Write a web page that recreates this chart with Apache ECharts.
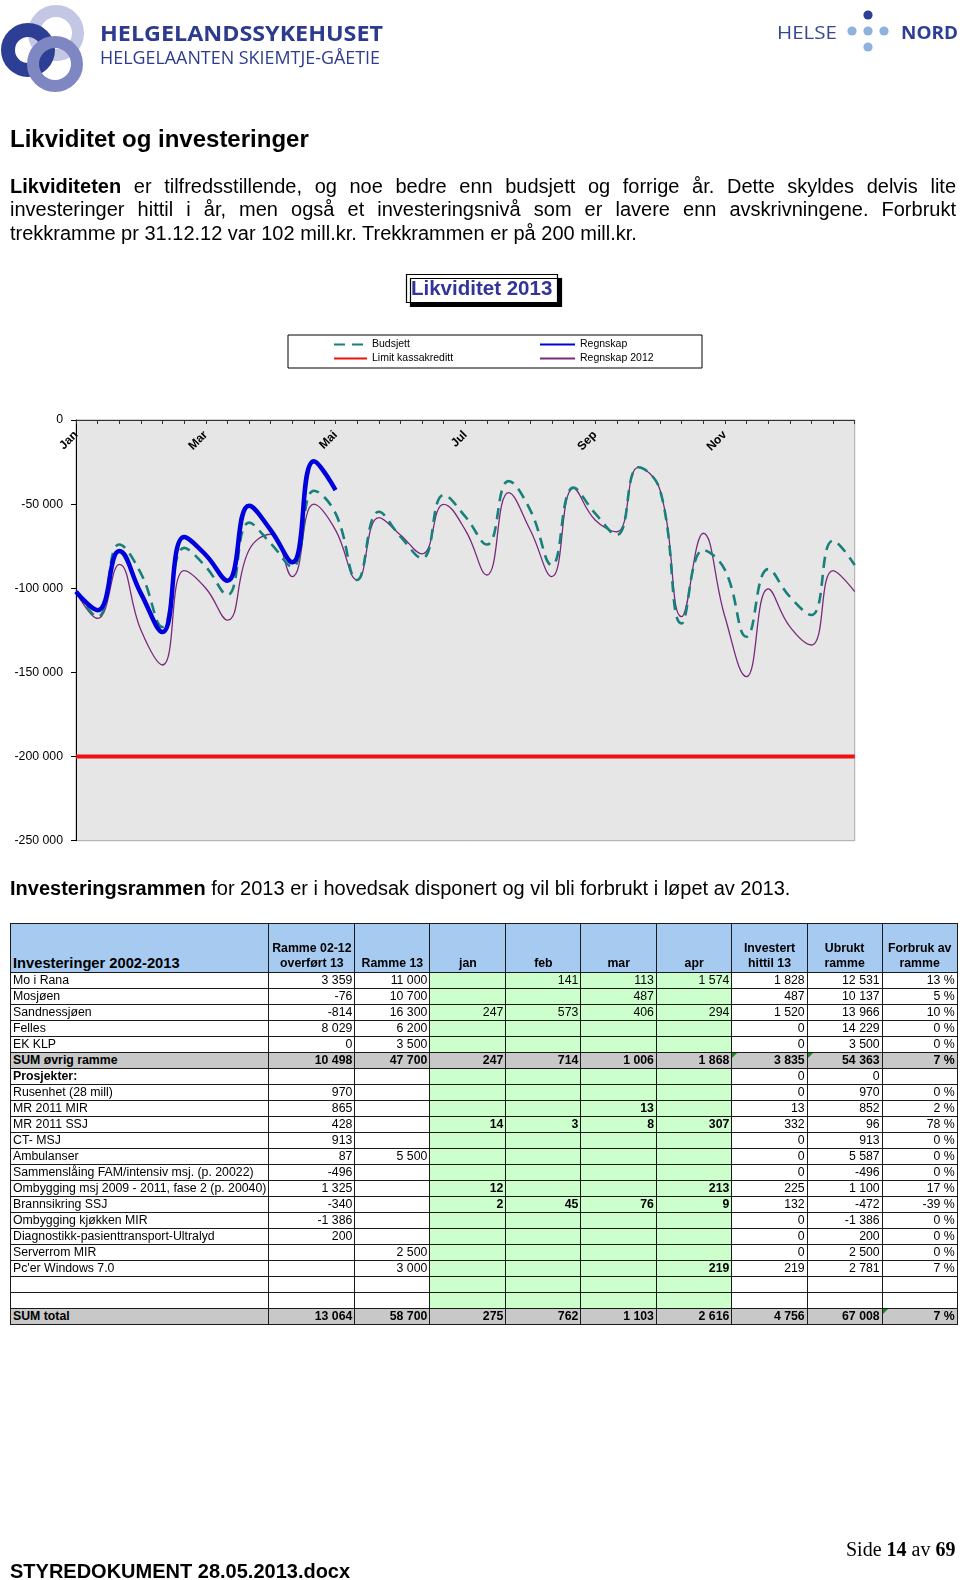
<!DOCTYPE html>
<html><head><meta charset="utf-8">
<script src="https://cdn.jsdelivr.net/npm/echarts@6/dist/echarts.min.js"></script>
<style>
html,body{margin:0;padding:0;background:#fff;}
#page{position:relative;width:960px;height:1580px;overflow:hidden;font-family:"Liberation Sans",Arial,sans-serif;color:#000;}
#chart{position:absolute;left:0;top:0;width:960px;height:1580px;z-index:1;}
.abs{position:absolute;z-index:2;}
.jl{text-align:justify;text-align-last:justify;white-space:nowrap;}
#tbl{border-collapse:collapse;table-layout:fixed;font-size:12.3px;}
#tbl td{border:1px solid #1a1a1a;padding:0 2px;height:15px;line-height:15px;white-space:nowrap;overflow:hidden;text-align:right;position:relative;}
#tbl td.lab{text-align:left;}
#tbl tr.head td{height:47px;vertical-align:bottom;text-align:center;font-weight:bold;background:#a6caf0;white-space:pre-line;line-height:15px;padding-bottom:1px;}
#tbl tr.head td.h0{text-align:left;font-size:14.7px;}
.tri{position:absolute;left:0;top:0;width:0;height:0;border-top:5px solid #1f8a1f;border-right:5px solid transparent;}
</style></head>
<body><div id="page">
<div id="chart"></div>

<svg class="abs" style="left:0;top:0" width="960" height="100">
  <circle cx="56" cy="33" r="22" fill="none" stroke="#c3c7e3" stroke-width="12"/>
  <circle cx="28" cy="50" r="20" fill="none" stroke="#2c3f95" stroke-width="14"/>
  <circle cx="55" cy="64" r="22" fill="none" stroke="#7f87c3" stroke-width="12"/>
  <text x="100" y="41" font-family="Open Sans, Liberation Sans" font-weight="bold" font-size="22" fill="#2d3b8e" textLength="283" lengthAdjust="spacingAndGlyphs">HELGELANDSSYKEHUSET</text>
  <text x="100" y="63.5" font-family="Open Sans, Liberation Sans" font-size="18" fill="#2d3b8e" textLength="280" lengthAdjust="spacingAndGlyphs">HELGELAANTEN SKIEMTJE-GÅETIE</text>
  <text x="777" y="38.5" font-family="Open Sans, Liberation Sans" font-size="18" fill="#34478f" textLength="60" lengthAdjust="spacingAndGlyphs">HELSE</text>
  <circle cx="868" cy="15" r="4.6" fill="#2c3f95"/>
  <circle cx="852" cy="31" r="4.6" fill="#8fb1de"/>
  <circle cx="868" cy="31" r="4.6" fill="#8fb1de"/>
  <circle cx="884" cy="31" r="4.6" fill="#8fb1de"/>
  <circle cx="868" cy="47" r="4.6" fill="#8fb1de"/>
  <text x="901" y="38.5" font-family="Open Sans, Liberation Sans" font-weight="bold" font-size="18" fill="#2c3f95" textLength="57" lengthAdjust="spacingAndGlyphs">NORD</text>
</svg>

<div class="abs" style="left:10px;top:125px;font-size:24px;line-height:28px;font-weight:bold;">Likviditet og investeringer</div>
<div class="abs" style="left:10px;top:175px;width:946px;font-size:20px;line-height:23.4px;">
  <div class="jl"><b>Likviditeten</b> er tilfredsstillende, og noe bedre enn budsjett og forrige år. Dette skyldes delvis lite</div>
  <div class="jl">investeringer hittil i år, men også et investeringsnivå som er lavere enn avskrivningene. Forbrukt</div>
  <div>trekkramme pr 31.12.12 var 102 mill.kr. Trekkrammen er på 200 mill.kr.</div>
</div>
<div class="abs" style="left:10px;top:877px;font-size:20px;line-height:23.4px;white-space:nowrap;"><b>Investeringsrammen</b> for 2013 er i hovedsak disponert og vil bli forbrukt i løpet av 2013.</div>

<table id="tbl" class="abs" style="left:10px;top:923px;"></table>

<div class="abs" style="left:846px;top:1537px;font-family:'Liberation Serif','Times New Roman',serif;font-size:20px;line-height:24px;white-space:nowrap;">Side <b>14</b> av <b>69</b></div>
<div class="abs" style="left:10px;top:1559px;font-size:20px;line-height:24px;font-weight:bold;white-space:nowrap;">STYREDOKUMENT 28.05.2013.docx</div>
</div>

<script>
// ---- chart data ----
const months = ['Jan','','','Feb','','','Mar','','','Apr','','','Mai','','','Jun','','','Jul','','','Aug','','','Sep','','','Okt','','','Nov','','','Des','','',''];
const budsjett = [-102000,-116900,-74000,-91100,-123000,-76000,-87200,-104000,-61000,-73300,-87200,-42000,-55500,-95100,-54500,-69300,-82200,-44600,-57400,-74000,-36300,-53500,-86200,-40200,-55500,-68300,-28100,-41600,-120900,-77300,-89100,-128800,-88600,-105000,-115900,-71700,-86200];
const regnskap = [-102000,-113000,-77900,-103000,-126000,-69500,-80200,-95500,-51000,-65400,-84600,-24500,-41600,null,null,null,null,null,null,null,null,null,null,null,null,null,null,null,null,null,null,null,null,null,null,null,null];
const regnskap2012 = [-102000,-117900,-85800,-124800,-145600,-89500,-100000,-118900,-77300,-67900,-93100,-50000,-65400,-95100,-58000,-68300,-79600,-50100,-65400,-92100,-43200,-65400,-93100,-40500,-59400,-66400,-28100,-41600,-116900,-67300,-116900,-152500,-100400,-122800,-133700,-89500,-102000];
const limitKassakreditt = [-200000,-200000,-200000,-200000,-200000,-200000,-200000,-200000,-200000,-200000,-200000,-200000,-200000,-200000,-200000,-200000,-200000,-200000,-200000,-200000,-200000,-200000,-200000,-200000,-200000,-200000,-200000,-200000,-200000,-200000,-200000,-200000,-200000,-200000,-200000,-200000,-200000];
const seriesNames = ['Budsjett','Limit kassakreditt','Regnskap','Regnskap 2012'];

// ---- table data ----
const tableHead = ['Investeringer 2002-2013','Ramme 02-12\noverført 13','Ramme 13','jan','feb','mar','apr','Investert\nhittil 13','Ubrukt\nramme','Forbruk av\nramme'];
const colWidths = [255.7,86,75,76,75,75.6,75.4,75.3,75,75];
const tableRows = [
 ['Mo i Rana','3 359','11 000','','141','113','1 574','1 828','12 531','13 %'],
 ['Mosjøen','-76','10 700','','','487','','487','10 137','5 %'],
 ['Sandnessjøen','-814','16 300','247','573','406','294','1 520','13 966','10 %'],
 ['Felles','8 029','6 200','','','','','0','14 229','0 %'],
 ['EK KLP','0','3 500','','','','','0','3 500','0 %'],
 ['SUM øvrig ramme','10 498','47 700','247','714','1 006','1 868','3 835','54 363','7 %'],
 ['Prosjekter:','','','','','','','0','0',''],
 ['Rusenhet (28 mill)','970','','','','','','0','970','0 %'],
 ['MR 2011 MIR','865','','','','13','','13','852','2 %'],
 ['MR 2011 SSJ','428','','14','3','8','307','332','96','78 %'],
 ['CT- MSJ','913','','','','','','0','913','0 %'],
 ['Ambulanser','87','5 500','','','','','0','5 587','0 %'],
 ['Sammenslåing FAM/intensiv msj. (p. 20022)','-496','','','','','','0','-496','0 %'],
 ['Ombygging msj 2009 - 2011, fase 2 (p. 20040)','1 325','','12','','','213','225','1 100','17 %'],
 ['Brannsikring SSJ','-340','','2','45','76','9','132','-472','-39 %'],
 ['Ombygging kjøkken MIR','-1 386','','','','','','0','-1 386','0 %'],
 ['Diagnostikk-pasienttransport-Ultralyd','200','','','','','','0','200','0 %'],
 ['Serverrom MIR','','2 500','','','','','0','2 500','0 %'],
 ["Pc'er Windows 7.0",'','3 000','','','','219','219','2 781','7 %'],
 ['','','','','','','','','',''],
 ['','','','','','','','','',''],
 ['SUM total','13 064','58 700','275','762','1 103','2 616','4 756','67 008','7 %']
];
const sumRows = [5, 21];
const markers = [[5,7],[5,8],[21,9]];

// build table
(function(){
  const t = document.getElementById('tbl');
  const cg = document.createElement('colgroup');
  colWidths.forEach(w=>{const c=document.createElement('col');c.style.width=w+'px';cg.appendChild(c);});
  t.appendChild(cg);
  const hr = document.createElement('tr'); hr.className='head';
  tableHead.forEach((h,i)=>{const td=document.createElement('td');td.textContent=h;if(i===0)td.className='h0';hr.appendChild(td);});
  t.appendChild(hr);
  tableRows.forEach((r,ri)=>{
    const tr=document.createElement('tr');
    const isSum = sumRows.includes(ri);
    r.forEach((v,ci)=>{
      const td=document.createElement('td');
      td.textContent=v;
      if(ci===0) td.className='lab';
      if(isSum){td.style.background='#c8c8c8';td.style.fontWeight='bold';}
      else if(ci>=3&&ci<=6){td.style.background='#ccffcc'; if(ri>=7) td.style.fontWeight='bold';}
      if(ri===6&&ci===0) td.style.fontWeight='bold';
      if(markers.some(m=>m[0]===ri&&m[1]===ci)){const s=document.createElement('span');s.className='tri';td.appendChild(s);}
      tr.appendChild(td);
    });
    t.appendChild(tr);
  });
})();

const chart = echarts.init(document.getElementById('chart'), null, {renderer:'canvas'});
const fmt = v => String(v).replace(/\B(?=(\d{3})+(?!\d))/g,' ');
const FF = 'Liberation Sans';
const legendCommon = {orient:'vertical',top:339,itemHeight:12,itemGap:3,padding:0,itemStyle:{opacity:0},
  textStyle:{fontFamily:FF,fontSize:10.5,color:'#000'}};
chart.setOption({
  animation:false,
  title:{text:'Likviditet 2013',left:406,top:274,padding:[4,5,3,5],backgroundColor:'#fff',borderColor:'#000',borderWidth:1.2,
    shadowColor:'#000',shadowOffsetX:4,shadowOffsetY:4,shadowBlur:0.01,
    textStyle:{fontFamily:FF,fontSize:20.5,fontWeight:'bold',color:'#333399',lineHeight:22}},
  graphic:[{type:'rect',shape:{x:288,y:335,width:414,height:33},style:{fill:'none',stroke:'#000',lineWidth:1},z:10}],
  legend:[
    Object.assign({data:[seriesNames[0],seriesNames[1]],left:333,itemWidth:33},legendCommon),
    Object.assign({data:[seriesNames[2],seriesNames[3]],left:539,itemWidth:35},legendCommon)
  ],
  grid:[
    {left:76,top:420,width:778.7,height:420.7,show:true,backgroundColor:'#e6e6e6',borderColor:'#a8a8a8',borderWidth:1},
    {left:76,top:419,width:778.7,height:1,show:false}
  ],
  xAxis:[
    {type:'category',gridIndex:0,data:months,boundaryGap:false,position:'top',
      axisLine:{onZero:false,lineStyle:{color:'#333',width:1}},
      axisTick:{interval:0,length:4,inside:true,lineStyle:{color:'#333'}},
      axisLabel:{show:false},splitLine:{show:false}},
    {type:'category',gridIndex:1,data:months,boundaryGap:false,position:'bottom',
      axisLine:{show:false,onZero:false},axisTick:{show:false},
      axisLabel:{interval:5,rotate:45,fontFamily:FF,fontSize:12,fontWeight:'bold',color:'#000',margin:13},
      splitLine:{show:false}}
  ],
  yAxis:[
    {type:'value',gridIndex:0,min:-250000,max:0,interval:50000,
      axisLine:{show:true,lineStyle:{color:'#000',width:1}},
      axisTick:{show:true,length:5,lineStyle:{color:'#000'}},
      axisLabel:{formatter:fmt,fontFamily:FF,fontSize:12.3,color:'#000',margin:13},
      splitLine:{show:false}},
    {type:'value',gridIndex:1,min:0,max:1,show:false}
  ],
  series:[
    {name:seriesNames[3],type:'line',data:regnskap2012,smooth:0.45,symbol:'none',lineStyle:{color:'#7a2a7c',width:1.3},itemStyle:{color:'#7a2a7c'},z:2},
    {name:seriesNames[1],type:'line',data:limitKassakreditt,smooth:false,symbol:'none',lineStyle:{color:'#ee1111',width:4},itemStyle:{color:'#ee1111'},z:2},
    {name:seriesNames[0],type:'line',data:budsjett,smooth:0.45,symbol:'none',lineStyle:{color:'#17807a',width:2.6,type:[11,7]},itemStyle:{color:'#17807a'},z:3},
    {name:seriesNames[2],type:'line',data:regnskap,smooth:0.45,symbol:'none',connectNulls:false,lineStyle:{color:'#0000dd',width:4.5},itemStyle:{color:'#0000dd'},z:4}
  ]
});
</script>
</body></html>
